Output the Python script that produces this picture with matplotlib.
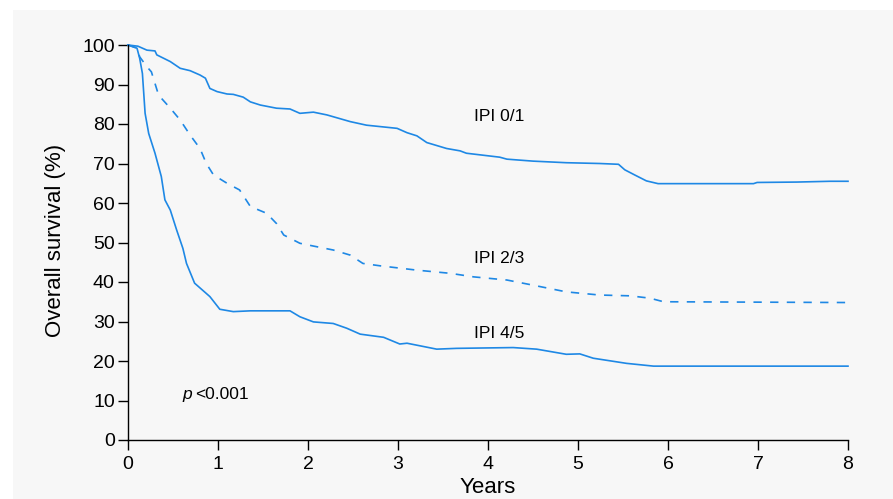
import matplotlib
matplotlib.use("Agg")
import matplotlib.pyplot as plt
from matplotlib.patches import Rectangle

# ---- data ----
t_low = [0, 0.11, 0.21, 0.30, 0.32, 0.47, 0.58, 0.69, 0.80, 0.86, 0.91, 0.99, 1.10, 1.17,
         1.28, 1.36, 1.47, 1.65, 1.80, 1.91, 2.06, 2.21, 2.47, 2.65, 2.99, 3.10, 3.21, 3.32,
         3.54, 3.69, 3.76, 4.13, 4.21, 4.50, 4.87, 5.24, 5.45, 5.52, 5.63, 5.76, 5.89, 6.95,
         6.99, 7.43, 7.80, 8.0]
s_low = [100, 99.7, 98.7, 98.5, 97.5, 95.8, 94.1, 93.5, 92.4, 91.6, 89.0, 88.2, 87.6, 87.5,
         86.8, 85.6, 84.8, 84.0, 83.8, 82.7, 83.0, 82.3, 80.6, 79.7, 78.9, 77.8, 77.0, 75.3,
         73.8, 73.2, 72.6, 71.6, 71.1, 70.6, 70.2, 70.0, 69.8, 68.4, 67.1, 65.6, 64.9, 64.9,
         65.2, 65.3, 65.5, 65.5]

t_mid = [0, 0.10, 0.13, 0.21, 0.26, 0.34, 0.47, 0.58, 0.69, 0.80, 0.87, 0.95, 1.10, 1.24,
         1.36, 1.54, 1.65, 1.73, 1.91, 2.06, 2.28, 2.47, 2.61, 2.80, 3.21, 3.58, 3.84, 4.21,
         4.50, 4.87, 5.24, 5.58, 5.80, 5.95, 8.0]
s_mid = [100, 99.2, 97.0, 94.5, 93.2, 87.3, 84.0, 81.0, 77.2, 73.8, 70.0, 67.1, 65.0, 63.3,
         59.1, 57.4, 54.8, 51.9, 49.8, 49.1, 48.1, 46.8, 44.7, 44.1, 43.0, 42.2, 41.3, 40.5,
         39.2, 37.5, 36.7, 36.5, 35.9, 35.0, 34.8]

t_high = [0, 0.10, 0.13, 0.16, 0.19, 0.23, 0.30, 0.37, 0.41, 0.47, 0.54, 0.61, 0.65, 0.74,
          0.91, 1.02, 1.17, 1.36, 1.54, 1.80, 1.91, 2.06, 2.28, 2.43, 2.58, 2.84, 3.02, 3.10,
          3.43, 3.65, 4.28, 4.54, 4.87, 5.02, 5.17, 5.54, 5.84, 8.0]
s_high = [100, 99.2, 96.6, 92.8, 82.7, 77.6, 72.6, 66.7, 60.8, 58.2, 53.2, 48.5, 44.7, 39.7,
          36.3, 33.1, 32.5, 32.7, 32.7, 32.7, 31.2, 29.9, 29.5, 28.3, 26.8, 26.0, 24.3, 24.5,
          23.0, 23.2, 23.4, 23.0, 21.7, 21.8, 20.7, 19.4, 18.7, 18.7]

labels = ["IPI 0/1", "IPI 2/3", "IPI 4/5"]
label_y = [82, 46, 27]
x_ticks = [0, 1, 2, 3, 4, 5, 6, 7, 8]
y_ticks = [0, 10, 20, 30, 40, 50, 60, 70, 80, 90, 100]

# ---- figure ----
plt.rcParams['font.family'] = ['Liberation Sans', 'DejaVu Sans']
W, H = 893, 499
fig = plt.figure(figsize=(W / 100, H / 100), dpi=100, facecolor='white')
fig.patches.append(Rectangle((13 / W, 0), 1, 1 - 10 / H, transform=fig.transFigure,
                             facecolor='#f7f7f7', edgecolor='none', zorder=-10))

ax = fig.add_axes([128 / W, 1 - 440 / H, 720 / W, 395 / H])
ax.set_zorder(5)
ax.set_facecolor('none')

blue = '#1e88e5'
ax.plot(t_low, s_low, color=blue, lw=1.2, clip_on=False)
ax.plot(t_mid, s_mid, color=blue, lw=1.2, ls=(0, (5, 5)), clip_on=False)
ax.plot(t_high, s_high, color=blue, lw=1.2, clip_on=False)

ax.set_xlim(0, 8)
ax.set_ylim(0, 100)
ax.set_xticks(x_ticks)
ax.set_yticks(y_ticks)
for s in ['top', 'right']:
    ax.spines[s].set_visible(False)
for s in ['left', 'bottom']:
    ax.spines[s].set_linewidth(1.0)
ax.tick_params(axis='both', direction='out', length=7.5, width=1.0, labelsize=14,
               colors='black')
ax.tick_params(axis='y', pad=2)
ax.tick_params(axis='x', pad=4)

ax.set_xlabel('Years', fontsize=16)
ax.xaxis.set_label_coords(0.5, -0.093)
ax.set_ylabel('Overall survival (%)', fontsize=16, va='center')
ax.yaxis.set_label_coords(-0.101, 0.504)

for lab, y in zip(labels, label_y):
    ax.text(3.84, y, lab, fontsize=12.5, va='center', ha='left')

ax.text(0.6, 11.4, 'p', fontsize=12.5, style='italic', va='center', ha='left')
ax.text(0.75, 11.4, '<0.001', fontsize=12.5, va='center', ha='left')

fig.savefig('out.png', dpi=100, facecolor=fig.get_facecolor())
